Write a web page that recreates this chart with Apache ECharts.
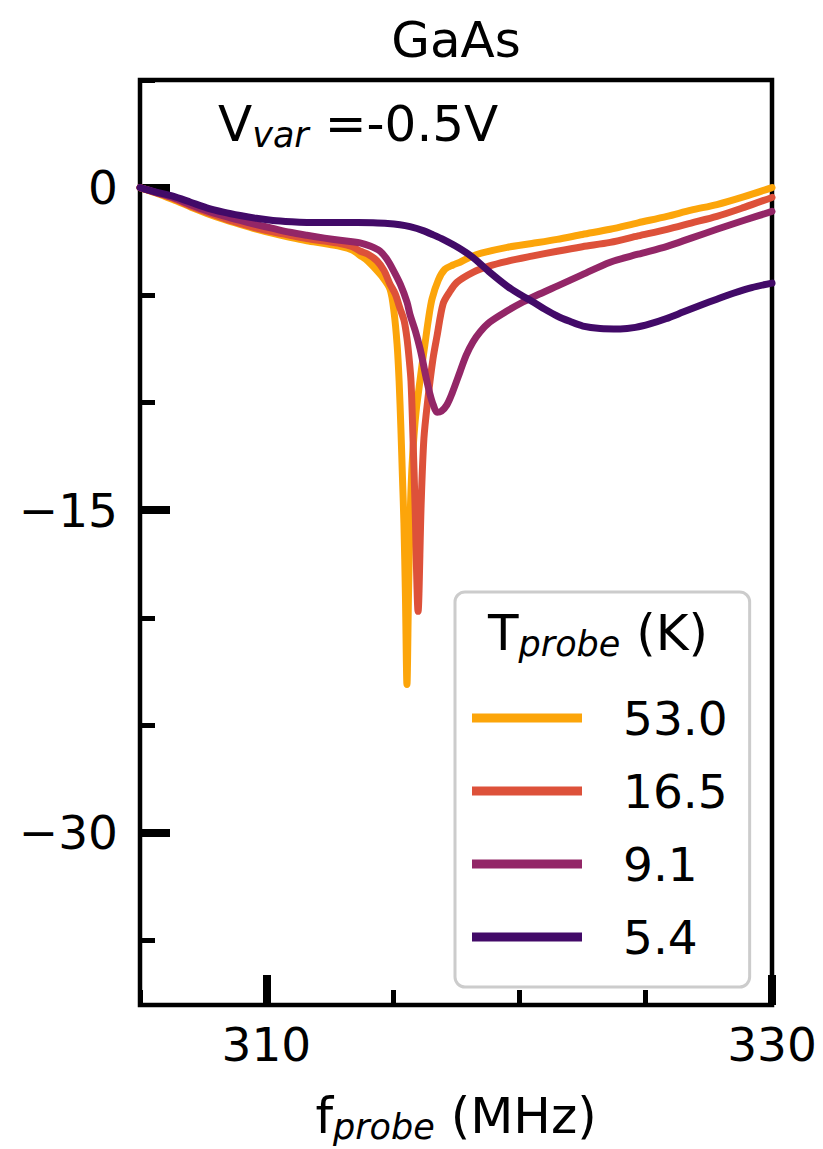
<!DOCTYPE html>
<html>
<head>
<meta charset="utf-8">
<script src="https://cdn.jsdelivr.net/npm/echarts@6/dist/echarts.min.js"></script>
<style>
  html, body { margin: 0; padding: 0; background: #fff; }
  #chart { width: 823px; height: 1149px; }
</style>
</head>
<body>
<div id="chart"></div>
<script>
// Resonance traces of the probe signal, GaAs sample, V_var = -0.5 V
const temperatures = ['53.0', '16.5', '9.1', '5.4'];
const colors = ['#fca50a', '#dd513a', '#932667', '#420a68'];

const f53 = [305.0, 305.6, 306.3, 307.0, 307.64, 308.3, 308.96, 309.6, 310.26, 310.93, 311.6, 312.3, 312.91, 313.4, 313.7, 314.0, 314.22, 314.55, 314.89, 315.05, 315.17, 315.25, 315.32, 315.38, 315.44, 315.5, 315.56, 315.62, 315.68, 315.75, 315.84, 315.94, 316.04, 316.15, 316.27, 316.4, 316.55, 316.8, 317.06, 317.38, 317.66, 318.05, 318.5, 319.52, 320.5, 321.5, 322.5, 323.6, 324.7, 325.85, 326.8, 327.82, 328.9, 330.0];
const v53 = [0.0, -0.24, -0.56, -0.9, -1.2, -1.47, -1.71, -1.93, -2.13, -2.31, -2.47, -2.6, -2.73, -2.9, -3.15, -3.4, -3.66, -4.1, -4.72, -5.8, -7.3, -9.0, -11.2, -13.4, -15.6, -19.0, -23.1, -19.0, -15.6, -13.2, -11.5, -10.2, -9.3, -8.3, -7.3, -6.2, -5.19, -4.3, -3.8, -3.6, -3.47, -3.24, -3.05, -2.78, -2.6, -2.41, -2.18, -1.94, -1.64, -1.34, -1.05, -0.79, -0.42, 0.0];

const f16 = [305.0, 305.6, 306.3, 307.0, 307.64, 308.3, 308.96, 309.6, 310.26, 310.93, 311.6, 312.3, 312.91, 313.4, 313.7, 314.05, 314.37, 314.65, 314.89, 315.1, 315.28, 315.45, 315.56, 315.65, 315.72, 315.8, 315.88, 316.0, 316.12, 316.23, 316.39, 316.59, 316.75, 316.99, 317.25, 317.54, 318.17, 318.8, 319.52, 320.5, 321.5, 322.5, 323.6, 324.7, 325.85, 326.8, 327.82, 328.9, 330.0];
const v16 = [0.0, -0.22, -0.5, -0.86, -1.15, -1.42, -1.67, -1.88, -2.06, -2.22, -2.37, -2.49, -2.6, -2.75, -2.95, -3.12, -3.4, -3.85, -4.49, -4.95, -5.6, -6.2, -7.0, -8.0, -9.0, -11.67, -14.77, -19.7, -14.77, -11.67, -9.81, -7.96, -6.9, -5.4, -4.85, -4.4, -3.94, -3.65, -3.43, -3.19, -2.96, -2.75, -2.55, -2.25, -1.94, -1.65, -1.34, -0.92, -0.46];

const f9 = [305.0, 305.6, 306.3, 307.0, 307.64, 308.3, 308.96, 309.6, 310.26, 310.93, 311.6, 312.3, 312.91, 313.4, 313.7, 314.1, 314.49, 314.75, 315.0, 315.3, 315.56, 315.68, 315.9, 316.08, 316.19, 316.33, 316.47, 316.6, 316.75, 316.92, 317.14, 317.34, 317.66, 317.9, 318.17, 318.45, 318.84, 319.5, 320.15, 320.8, 321.5, 322.5, 323.6, 324.7, 325.85, 326.8, 327.82, 328.9, 330.0];
const v9 = [0.0, -0.22, -0.46, -0.8, -1.08, -1.32, -1.53, -1.72, -1.9, -2.08, -2.22, -2.35, -2.45, -2.52, -2.57, -2.72, -2.95, -3.3, -3.8, -4.5, -5.32, -5.9, -6.7, -7.5, -8.1, -8.9, -9.6, -10.1, -10.45, -10.4, -10.1, -9.58, -8.56, -7.8, -7.18, -6.71, -6.25, -5.75, -5.32, -4.95, -4.58, -4.05, -3.47, -3.1, -2.73, -2.35, -1.94, -1.52, -1.11];

const f5 = [305.0, 305.6, 306.3, 307.0, 307.64, 308.3, 308.96, 309.6, 310.26, 311.0, 311.6, 312.3, 312.91, 313.6, 314.22, 314.8, 315.28, 315.68, 316.2, 316.6, 316.99, 317.6, 318.17, 318.8, 319.52, 320.0, 320.55, 321.0, 321.5, 322.0, 322.52, 323.2, 324.0, 324.6, 325.17, 325.8, 326.48, 327.2, 327.82, 328.5, 329.2, 330.0];
const v5 = [0.0, -0.2, -0.4, -0.68, -0.94, -1.14, -1.3, -1.43, -1.53, -1.59, -1.62, -1.63, -1.63, -1.63, -1.64, -1.67, -1.73, -1.82, -2.0, -2.2, -2.41, -2.8, -3.25, -3.9, -4.58, -4.95, -5.32, -5.65, -5.97, -6.22, -6.44, -6.55, -6.57, -6.5, -6.34, -6.1, -5.79, -5.46, -5.19, -4.9, -4.65, -4.44];

const xMajorTicks = [310, 330];
const xMinorTicks = [305, 315, 320, 325];
const yMajorTicks = [0, -15, -30];
const yMinorTicks = [5, -5, -10, -20, -25, -35];

const freqs = [f53, f16, f9, f5];
const values = [v53, v16, v9, v5];

const FONT = "'DejaVu Sans', sans-serif";
const FS = 47;

function pairs(xs, ys) { return xs.map((x, i) => [x, ys[i]]); }
function minusFmt(v) { return v < 0 ? '\u2212' + Math.abs(v) : String(v); }

// rich styles for a main run plus a lowered italic subscript
function richStyles(size) {
  const sub = Math.round(size * 0.7);
  return {
    t: { fontFamily: FONT, fontSize: size, lineHeight: 54, verticalAlign: 'top', color: '#000', fill: '#000' },
    s: { fontFamily: FONT, fontSize: sub, fontStyle: 'italic', lineHeight: 40, padding: [18, 0, 0, 0], verticalAlign: 'top', color: '#000', fill: '#000' }
  };
}

const chart = echarts.init(document.getElementById('chart'), null, { renderer: 'svg' });

const series = temperatures.map((name, i) => ({
  name: name,
  type: 'line',
  data: pairs(freqs[i], values[i]),
  showSymbol: false,
  smooth: 0.3,
  lineStyle: { width: 7, color: colors[i], cap: 'round', join: 'round' },
  itemStyle: { color: colors[i] },
  xAxisIndex: 0,
  yAxisIndex: 0,
  animation: false
}));

const option = {
  animation: false,
  backgroundColor: '#fff',
  textStyle: { fontFamily: FONT },
  grid: {
    left: 140, right: 51, top: 80, bottom: 141,
    show: true, borderColor: '#000', borderWidth: 4.5, backgroundColor: 'transparent'
  },
  xAxis: [
    {
      type: 'value', min: 305, max: 330, position: 'bottom',
      axisLine: { show: false, onZero: false },
      splitLine: { show: false },
      axisTick: { show: true, inside: true, length: 30, customValues: xMajorTicks, lineStyle: { color: '#000', width: 8 } },
      axisLabel: { show: true, customValues: xMajorTicks, margin: 16, color: '#000', fontFamily: FONT, fontSize: FS },
      name: '{t|f}{s|probe}{t| (MHz)}',
      nameLocation: 'middle',
      nameGap: 86,
      nameTextStyle: { rich: richStyles(50) }
    },
    {
      type: 'value', min: 305, max: 330, position: 'bottom',
      axisLine: { show: false, onZero: false },
      splitLine: { show: false },
      axisTick: { show: true, inside: true, length: 15, customValues: xMinorTicks, lineStyle: { color: '#000', width: 5 } },
      axisLabel: { show: false }
    }
  ],
  yAxis: [
    {
      type: 'value', min: -38, max: 5, position: 'left',
      axisLine: { show: false, onZero: false },
      splitLine: { show: false },
      axisTick: { show: true, inside: true, length: 30, customValues: yMajorTicks, lineStyle: { color: '#000', width: 8 } },
      axisLabel: { show: true, customValues: yMajorTicks, margin: 22, color: '#000', fontFamily: FONT, fontSize: FS, formatter: minusFmt }
    },
    {
      type: 'value', min: -38, max: 5, position: 'left',
      axisLine: { show: false, onZero: false },
      splitLine: { show: false },
      axisTick: { show: true, inside: true, length: 15, customValues: yMinorTicks, lineStyle: { color: '#000', width: 5 } },
      axisLabel: { show: false }
    }
  ],
  legend: {
    data: temperatures,
    orient: 'vertical',
    left: 455,
    top: 592,
    padding: [100, 22, 24, 17],
    itemGap: 21,
    itemWidth: 110,
    itemHeight: 9,
    icon: 'rect',
    backgroundColor: '#fff',
    borderColor: '#cccccc',
    borderWidth: 3,
    borderRadius: 10,
    selectedMode: false,
    textStyle: { fontFamily: FONT, fontSize: FS, color: '#000', lineHeight: 52, padding: [0, 0, 0, 36] }
  },
  graphic: [
    {
      type: 'text', x: 456, y: 40, z: 100,
      style: { text: 'GaAs', fontFamily: FONT, fontSize: 50, fill: '#000', align: 'center', verticalAlign: 'middle' }
    },
    {
      type: 'text', x: 218, y: 99, z: 100,
      style: { text: '{t|V}{s|var}{t| =-0.5V}', rich: richStyles(50), align: 'left', verticalAlign: 'top' }
    },
    {
      type: 'text', x: 488, y: 608, z: 100,
      style: { text: '{t|T}{s|probe}{t| (K)}', rich: richStyles(50), align: 'left', verticalAlign: 'top' }
    }
  ],
  series: series
};

chart.setOption(option);
</script>
</body>
</html>
